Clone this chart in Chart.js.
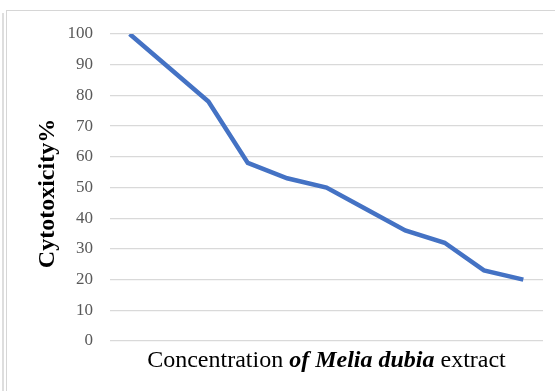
<!DOCTYPE html>
<html>
<head>
	<script src="https://cdn.jsdelivr.net/npm/chart.js@4.4.1/dist/chart.umd.min.js"></script>
	<style>
		body{ margin:0; background:#fff; }
		#wrap{ position:relative; width:555px; height:391px; }
		#frame{ position:absolute; left:6px; top:10px; width:560px; height:400px; border:1.5px solid #d6d6d6; }
		#edge{ position:absolute; left:2px; top:13px; width:1.5px; height:380px; background:#dedede; }
		canvas{ position:absolute; left:0; top:0; }
	</style>
</head>
<body>
	<div id="wrap">
		<div id="edge"></div>
		<div id="frame"></div>
		<canvas id="myChart" width="555" height="391"></canvas>
	</div>

	<script>
		// concentration steps (no labels shown on the x axis)
		var labels = ["1","2","3","4","5","6","7","8","9","10","11"];
		var cytotoxicity = [100, 89, 78, 58, 53, 50, 43, 36, 32, 23, 20];
		var yTicks = [0, 10, 20, 30, 40, 50, 60, 70, 80, 90, 100];

		var xTitleParts = [
			{ text: "Concentration ", font: "24px 'Liberation Serif'" },
			{ text: "of Melia dubia", font: "italic bold 24px 'Liberation Serif'" },
			{ text: " extract", font: "24px 'Liberation Serif'" }
		];

		// x axis title has mixed styles, so draw it by hand
		var xTitlePlugin = {
			id: 'xTitle',
			afterDraw: function(chart){
				var ctx = chart.ctx;
				var area = chart.chartArea;
				ctx.save();
				var total = 0;
				xTitleParts.forEach(function(p){
					ctx.font = p.font;
					p.w = ctx.measureText(p.text).width;
					total += p.w;
				});
				var x = (area.left + area.right) / 2 - total / 2;
				ctx.fillStyle = '#000';
				ctx.textBaseline = 'alphabetic';
				ctx.textAlign = 'left';
				xTitleParts.forEach(function(p){
					ctx.font = p.font;
					ctx.fillText(p.text, x, 367);
					x += p.w;
				});
				ctx.restore();
			}
		};

		var ctx = document.getElementById("myChart").getContext('2d');
		var myChart = new Chart(ctx, {
			type: 'line',
			data: {
				labels: labels,
				datasets: [{
					data: cytotoxicity,
					borderColor: '#4472c4',
					borderWidth: 4.5,
					pointRadius: 0,
					fill: false,
					tension: 0
				}]
			},
			options: {
				responsive: false,
				animation: false,
				layout: { padding: { top: 34, right: 12, bottom: 50, left: 0 } },
				plugins: { legend: { display: false }, tooltip: { enabled: false } },
				scales: {
					x: {
						display: false,
						offset: true
					},
					y: {
						min: 0,
						max: 100,
						afterFit: function(scale){ scale.width = 110; },
						afterBuildTicks: function(scale){
							scale.ticks = yTicks.map(function(v){ return { value: v }; });
						},
						border: { display: false },
						grid: { color: '#d9d9d9', lineWidth: 1.3, drawTicks: false },
						ticks: {
							padding: 17,
							color: '#595959',
							font: { family: "'Liberation Serif'", size: 17 }
						},
						title: {
							display: true,
							text: 'Cytotoxicity%  ',
							color: '#000',
							font: { family: "'Liberation Serif'", size: 24, weight: 'bold' },
							padding: { top: 33, bottom: 0 }
						}
					}
				}
			},
			plugins: [xTitlePlugin]
		});
	</script>
</body>
</html>
